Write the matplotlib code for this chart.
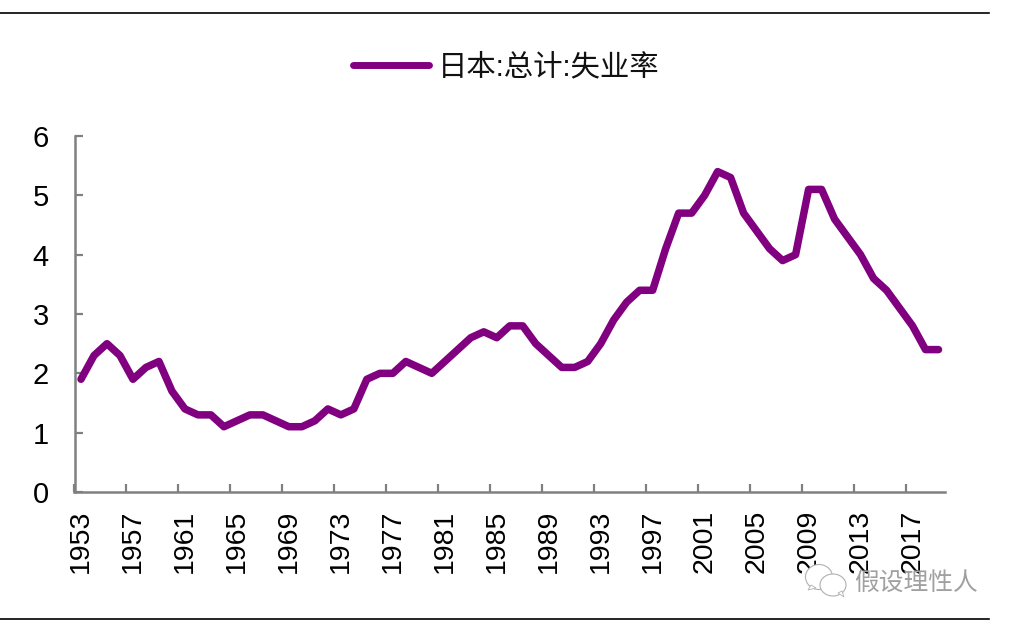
import matplotlib
matplotlib.use('Agg')
import matplotlib.pyplot as plt
from matplotlib.patches import Ellipse, Polygon

years = list(range(1953, 2020))
rate = [1.9,2.3,2.5,2.3,1.9,2.1,2.2,1.7,1.4,1.3,1.3,1.1,1.2,1.3,1.3,1.2,1.1,1.1,1.2,1.4,1.3,1.4,1.9,2.0,2.0,2.2,2.1,2.0,2.2,2.4,2.6,2.7,2.6,2.8,2.8,2.5,2.3,2.1,2.1,2.2,2.5,2.9,3.2,3.4,3.4,4.1,4.7,4.7,5.0,5.4,5.3,4.7,4.4,4.1,3.9,4.0,5.1,5.1,4.6,4.3,4.0,3.6,3.4,3.1,2.8,2.4,2.4]
tick_years = list(range(1953, 2018, 4))
series_name = '日本:总计:失业率'
watermark = '假设理性人'

plt.rcParams['font.family'] = ['Liberation Sans', 'Noto Sans CJK SC', 'DejaVu Sans']
W, H = 1010, 626
fig = plt.figure(figsize=(W/100, H/100), dpi=100)
ax = fig.add_axes([74.5/W, 1-492/H, (945-74.5)/W, (492-136)/H])
ax.plot(years, rate, color='#800080', lw=5.4, solid_joinstyle='round', solid_capstyle='round', label=series_name)
ax.set_xlim(1952.5, 2019.5)
ax.set_ylim(0, 6)
# category-axis style: ticks sit on the boundaries, labels on the category centres
ax.set_xticks([y - 0.5 for y in tick_years])
ax.set_xticklabels([])
ax.set_xticks(tick_years, minor=True)
ax.set_xticklabels([str(y) for y in tick_years], minor=True, rotation=90, fontsize=20.5)
ax.set_yticks(range(7))
ax.tick_params(axis='y', labelsize=21, color='#808080', direction='in', length=6, width=1.6, pad=18.5)
ax.tick_params(axis='x', which='major', color='#808080', direction='in', length=6, width=1.6)
ax.tick_params(axis='x', which='minor', length=0, pad=12.5)
for s in ['top', 'right']:
    ax.spines[s].set_visible(False)
for s in ['left', 'bottom']:
    ax.spines[s].set_color('#808080')
    ax.spines[s].set_linewidth(1.8)

fig.add_artist(plt.Line2D([0, 989/W], [1-13/H]*2, color='black', lw=1.2))
fig.add_artist(plt.Line2D([0, 989/W], [1-619/H]*2, color='black', lw=1.2))
fig.add_artist(plt.Line2D([353/W, 429/W], [1-64.5/H]*2, color='#800080', lw=5, solid_capstyle='round'))
fig.text(438/W, 1-67/H, series_name, fontsize=21.2, va='center', ha='left', color='#111111', fontweight='light')

# watermark
fig.text(854/W, 1-583/H, watermark, fontsize=17.8, va='center', ha='left', color='#a0a0a0', fontweight='light')
def bubble(cx, cy, w, h, tail):
    fig.add_artist(Ellipse((cx/W, 1-cy/H), w/W, h/H, transform=fig.transFigure, fc='white', ec='#b0b0b0', lw=0.8))
    fig.add_artist(Polygon([(x/W, 1-y/H) for x, y in tail], closed=True, transform=fig.transFigure, fc='white', ec='#b0b0b0', lw=0.6))
bubble(819, 577, 27, 25, [(811, 585), (808, 590), (816, 588)])
bubble(833, 585, 26, 22, [(838, 593), (844, 597), (842, 591)])
fig.savefig('out.png', dpi=100)
